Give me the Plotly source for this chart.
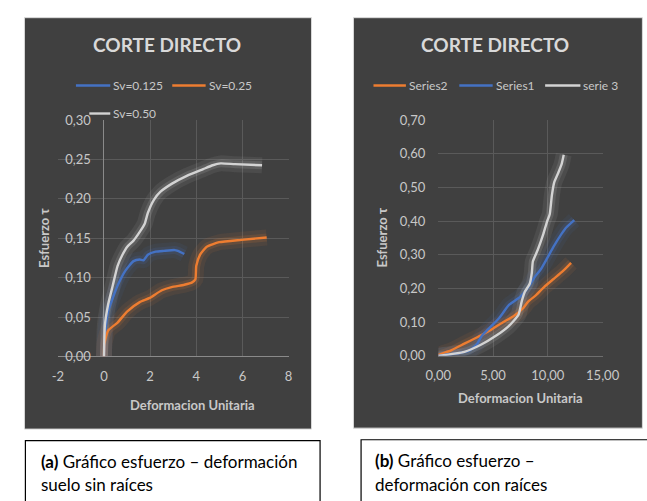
import plotly.graph_objects as go

# ---------------- data ----------------
# (a) suelo sin raíces
a_x_sv0125 = [0, 0.04, 0.18, 0.59, 0.93, 1.28, 1.55, 1.71, 1.90, 2.24, 2.60, 3.06, 3.20, 3.48]
a_y_sv0125 = [0, 0.025, 0.057, 0.090, 0.109, 0.121, 0.123, 0.122, 0.129, 0.133, 0.134, 0.135, 0.134, 0.130]

a_x_sv025 = [0, 0.02, 0.18, 0.59, 1.00, 1.55, 1.96, 2.51, 2.93, 3.48, 3.82, 3.96, 4.00, 4.16, 4.44, 4.99, 5.95, 7.05]
a_y_sv025 = [0, 0.016, 0.033, 0.043, 0.057, 0.069, 0.074, 0.084, 0.088, 0.091, 0.094, 0.098, 0.115, 0.129, 0.139, 0.145, 0.148, 0.151]

a_x_sv050 = [0, 0.04, 0.18, 0.38, 0.59, 0.80, 1.00, 1.28, 1.55, 1.76, 1.90, 2.17, 2.45, 2.93, 3.61, 4.30, 4.71, 5.06, 5.67, 6.85]
a_y_sv050 = [0, 0.040, 0.066, 0.090, 0.115, 0.129, 0.139, 0.147, 0.158, 0.168, 0.182, 0.199, 0.209, 0.219, 0.2295, 0.2377, 0.2426, 0.245, 0.244, 0.2426]

# (b) con raíces
b_x_series2 = [0, 1.22, 2.38, 3.55, 4.71, 5.87, 6.89, 7.76, 8.20, 8.92, 9.65, 10.52, 11.39, 12.12]
b_y_series2 = [0.003, 0.017, 0.036, 0.055, 0.075, 0.099, 0.118, 0.142, 0.161, 0.180, 0.204, 0.228, 0.252, 0.276]

b_x_series1 = [0, 1.80, 2.82, 3.55, 3.98, 4.56, 5.58, 6.45, 7.47, 8.34, 8.78, 9.36, 9.94, 10.52, 11.25, 11.68, 12.41]
b_y_series1 = [0, 0.0075, 0.015, 0.036, 0.060, 0.079, 0.113, 0.151, 0.175, 0.209, 0.233, 0.257, 0.290, 0.324, 0.362, 0.381, 0.403]

b_x_serie3 = [0, 2.38, 3.84, 5.29, 6.45, 7.32, 7.61, 7.90, 8.34, 8.54, 8.63, 9.07, 9.59, 9.94, 10.17, 10.37, 10.58, 10.96, 11.25, 11.45]
b_y_serie3 = [0, 0.012, 0.032, 0.060, 0.089, 0.122, 0.161, 0.190, 0.214, 0.247, 0.280, 0.314, 0.362, 0.400, 0.420, 0.477, 0.515, 0.544, 0.568, 0.597]

a_xtick_vals = [-2, 0, 2, 4, 6, 8]
a_xtick_text = ["-2", "0", "2", "4", "6", "8"]
a_ytick_vals = [0, 0.05, 0.10, 0.15, 0.20, 0.25, 0.30]
b_xtick_vals = [0, 5, 10, 15]
b_ytick_vals = [0, 0.1, 0.2, 0.3, 0.4, 0.5, 0.6, 0.7]

# ---------------- styling ----------------
W, H = 647, 501
FONT = "Lato"
BLUE, ORANGE, GRAY = "#4472C4", "#ED7D31", "#D3D3D3"
PANEL = "#404040"
GRID = "#5A5A5A"
TICKC = "#C8C8C8"


def px(x):
    return x / W


def py(y):
    return 1 - y / H


def glow(color, alpha):
    c = color.lstrip("#")
    r, g, b = int(c[0:2], 16), int(c[2:4], 16), int(c[4:6], 16)
    return f"rgba({r},{g},{b},{alpha})"


fig = go.Figure()

series = [
    (a_x_sv0125, a_y_sv0125, BLUE, "Sv=0.125", "x", "y"),
    (a_x_sv025, a_y_sv025, ORANGE, "Sv=0.25", "x", "y"),
    (a_x_sv050, a_y_sv050, GRAY, "Sv=0.50", "x", "y"),
    (b_x_series2, b_y_series2, ORANGE, "Series2", "x2", "y2"),
    (b_x_series1, b_y_series1, BLUE, "Series1", "x2", "y2"),
    (b_x_serie3, b_y_serie3, GRAY, "serie 3", "x2", "y2"),
]

# soft glow layers first
for xs, ys, col, name, xa, ya in series:
    fig.add_trace(go.Scatter(x=xs, y=ys, mode="lines", xaxis=xa, yaxis=ya,
                             line=dict(color=glow(col, 0.08), width=16, shape="spline", smoothing=0.5),
                             hoverinfo="skip", showlegend=False))
    fig.add_trace(go.Scatter(x=xs, y=ys, mode="lines", xaxis=xa, yaxis=ya,
                             line=dict(color=glow(col, 0.14), width=8, shape="spline", smoothing=0.5),
                             hoverinfo="skip", showlegend=False))
for xs, ys, col, name, xa, ya in series:
    fig.add_trace(go.Scatter(x=xs, y=ys, mode="lines", name=name, xaxis=xa, yaxis=ya,
                             line=dict(color=col, width=2.4, shape="spline", smoothing=0.5),
                             showlegend=False))

tickfont = dict(family=FONT, size=13, color=TICKC)

fig.update_layout(
    width=W, height=H,
    margin=dict(l=0, r=0, t=0, b=0),
    paper_bgcolor="white",
    plot_bgcolor="rgba(0,0,0,0)",
    separators=",.",
    showlegend=False,
    xaxis=dict(domain=[px(47), px(289)], range=[-2, 8], tickvals=a_xtick_vals, ticktext=a_xtick_text,
               showgrid=True, gridcolor=GRID, gridwidth=1, zeroline=True, zerolinecolor="#8A8A8A",
               zerolinewidth=1, showline=False, tickfont=tickfont, ticks="", ticklabelstandoff=10,
               anchor="y", fixedrange=True),
    yaxis=dict(domain=[py(360), py(115.7)], range=[0, 0.30], tickvals=a_ytick_vals, tickformat=".2f",
               showgrid=True, gridcolor=GRID, gridwidth=1, zeroline=True, zerolinecolor="#8A8A8A",
               zerolinewidth=1, showline=False, tickfont=tickfont, ticks="",
               ticklabelstandoff=-34, anchor="x", fixedrange=True),
    xaxis2=dict(domain=[px(446), px(618.3)], range=[0, 15], tickvals=b_xtick_vals, tickformat=".2f",
                showgrid=True, gridcolor=GRID, gridwidth=1, zeroline=False,
                showline=True, linecolor="#6E6E6E", linewidth=1, tickfont=tickfont, ticks="",
                ticklabelstandoff=8, anchor="y2", fixedrange=True),
    yaxis2=dict(domain=[py(359.3), py(115.7)], range=[0, 0.70], tickvals=b_ytick_vals, tickformat=".2f",
                showgrid=True, gridcolor=GRID, gridwidth=1, zeroline=False, showline=False,
                tickfont=tickfont, ticks="", ticklabelstandoff=12, anchor="x2", fixedrange=True),
)

shapes = []
# dark chart panels
shapes.append(dict(type="rect", xref="paper", yref="paper", x0=px(12), x1=px(313), y0=py(435), y1=py(10),
                   fillcolor=PANEL, line=dict(color="#D9D9D9", width=1), layer="below"))
shapes.append(dict(type="rect", xref="paper", yref="paper", x0=px(357), x1=px(660), y0=py(434), y1=py(10),
                   fillcolor=PANEL, line=dict(color="#D9D9D9", width=1), layer="below"))
# caption boxes
shapes.append(dict(type="rect", xref="paper", yref="paper", x0=px(13), x1=px(322), y0=py(520), y1=py(447),
                   fillcolor="rgba(0,0,0,0)", line=dict(color="black", width=1.2), layer="above"))
shapes.append(dict(type="rect", xref="paper", yref="paper", x0=px(365), x1=px(670), y0=py(520), y1=py(446),
                   fillcolor="rgba(0,0,0,0)", line=dict(color="black", width=1.2), layer="above"))

annotations = []

# legend entries (manual)
legend_items = [
    (66, 102, 80, BLUE, "Sv=0.125"),
    (167, 202, 80, ORANGE, "Sv=0.25"),
    (80, 102, 109, GRAY, "Sv=0.50"),
    (378, 412, 80, ORANGE, "Series2"),
    (468, 503, 80, BLUE, "Series1"),
    (558, 595, 80, GRAY, "serie 3"),
]
for x0, x1, yy, col, label in legend_items:
    shapes.append(dict(type="line", xref="paper", yref="paper", x0=px(x0), x1=px(x1), y0=py(yy), y1=py(yy),
                       line=dict(color=col, width=2.4), layer="above"))
    annotations.append(dict(text=label, x=px(x1 + 1), y=py(yy), xref="paper", yref="paper",
                            xanchor="left", yanchor="middle", showarrow=False,
                            font=dict(family=FONT, size=12, color=TICKC)))

# titles
for cx in (162, 505):
    annotations.append(dict(text="<b>CORTE DIRECTO</b>", x=px(cx), y=py(38), xref="paper", yref="paper",
                            xanchor="center", yanchor="middle", showarrow=False,
                            font=dict(family=FONT, size=19, color="#D9D9D9")))

# axis titles
for cx, cy in ((188, 410), (532, 403)):
    annotations.append(dict(text="<b>Deformacion Unitaria</b>", x=px(cx), y=py(cy), xref="paper", yref="paper",
                            xanchor="center", yanchor="middle", showarrow=False,
                            font=dict(family=FONT, size=13, color=TICKC)))
for cx, cy in ((33, 237), (387, 237)):
    annotations.append(dict(text="<b>Esfuerzo τ</b>", x=px(cx), y=py(cy), xref="paper", yref="paper",
                            xanchor="center", yanchor="middle", showarrow=False, textangle=-90,
                            font=dict(family=FONT, size=13, color=TICKC)))

# captions
cap_font = dict(family=FONT, size=17, color="black")
captions = [
    (27, 468, "<b>(a)</b> Gráfico esfuerzo – deformación"),
    (27, 492, "suelo sin raíces"),
    (378, 467, "<b>(b)</b> Gráfico esfuerzo –"),
    (378, 492, "deformación con raíces"),
]
for x0, yy, txt in captions:
    annotations.append(dict(text=txt, x=px(x0), y=py(yy), xref="paper", yref="paper",
                            xanchor="left", yanchor="middle", showarrow=False, font=cap_font))

fig.update_layout(shapes=shapes, annotations=annotations)

fig.write_html("out.html",
               config={"displayModeBar": False, "staticPlot": True},
               post_script="document.body.style.margin='0px';document.body.style.overflow='hidden';")
